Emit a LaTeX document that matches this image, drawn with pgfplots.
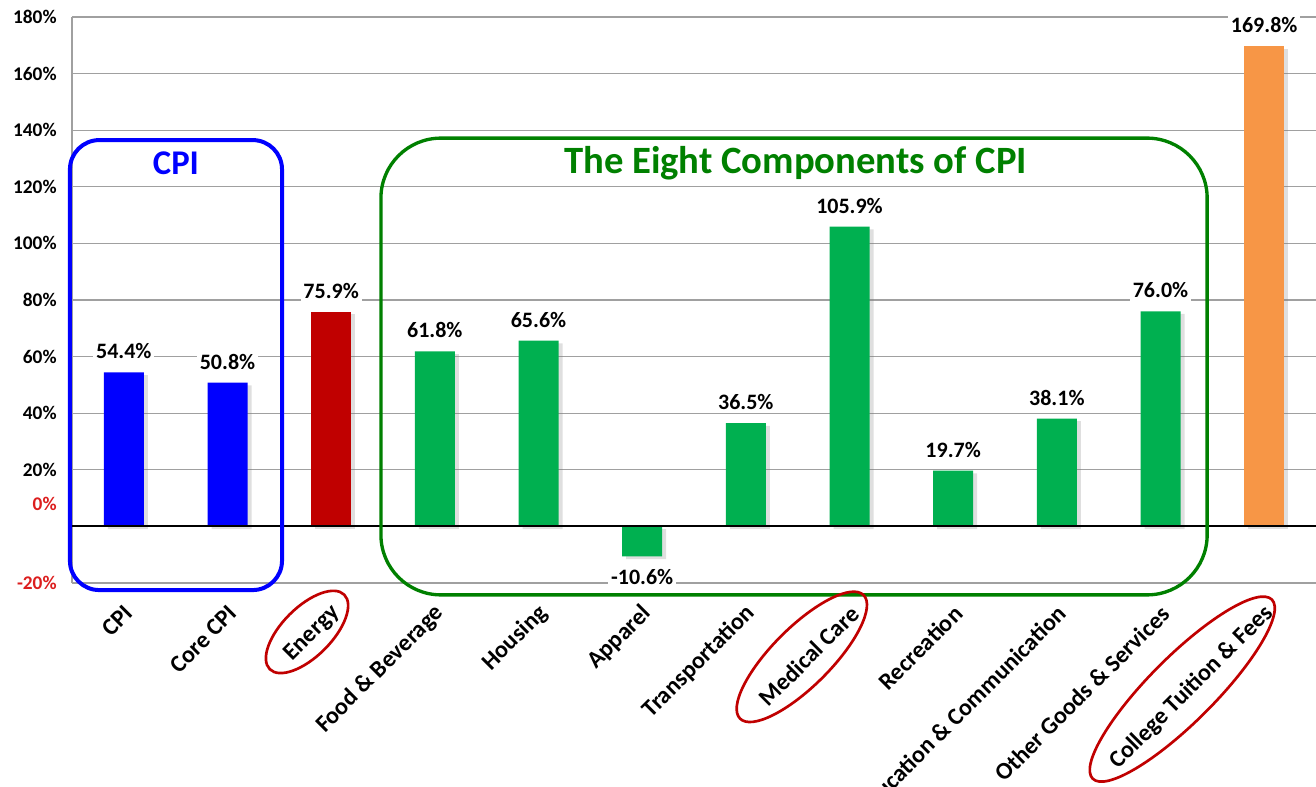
\documentclass[border=0pt]{standalone}
\usepackage{pgfplots}
\pgfplotsset{compat=1.18}
\usepackage{fontspec}
\setmainfont{Carlito}
\usetikzlibrary{shapes.geometric,shadows}

\definecolor{cpiblue}{RGB}{0,0,255}
\definecolor{enred}{RGB}{192,0,0}
\definecolor{compgreen}{RGB}{0,176,80}
\definecolor{colorange}{RGB}{247,150,70}
\definecolor{boxgreen}{RGB}{0,128,0}
\definecolor{tickred}{RGB}{220,30,30}
\definecolor{gridgray}{RGB}{160,160,160}

\begin{document}
\begin{tikzpicture}
\begin{axis}[
  at={(54pt,153pt)}, anchor=south west,
  scale only axis, width=933pt, height=424.5pt,
  xmin=-0.5, xmax=11.5, ymin=-20, ymax=180,
  ybar, bar width=30pt, bar shift=0pt,
  axis lines*=left,
  axis line style={gridgray, line width=1pt},
  ymajorgrids, grid style={gridgray, line width=1pt},
  major tick length=0pt,
  xtick={0,...,11},
  xticklabels={CPI, Core CPI, Energy, Food \& Beverage, Housing, Apparel, Transportation, Medical Care, Recreation, Education \& Communication, Other Goods \& Services, College Tuition \& Fees},
  xticklabel style={xshift=4pt, yshift=-20pt, rotate=45, anchor=east, inner sep=0pt, font=\fontsize{18}{20}\selectfont\bfseries},
  ytick={20,40,...,180},
  yticklabel={\pgfmathprintnumber{\tick}\%},
  yticklabel style={font=\fontsize{14.5}{16}\selectfont\bfseries, xshift=-8pt},
  extra y ticks={-20,8},
  extra y tick labels={-20\%,0\%},
  extra y tick style={grid=none, yticklabel style={text=tickred}},
  /pgf/number format/assume math mode=true,
  point meta=y,
  nodes near coords={\pgfmathprintnumber[fixed,fixed zerofill,precision=1]{\pgfplotspointmeta}\%},
  nodes near coords style={font=\fontsize{16.5}{18}\selectfont\bfseries, fill=white, text=black, inner sep=2pt, outer ysep=8pt},
  clip=false,
]
\addplot[fill=cpiblue, draw=none, drop shadow={shadow xshift=3pt, shadow yshift=-2pt, opacity=0.25}] coordinates {(0,54.4) (1,50.8)};
\addplot[fill=enred, draw=none, drop shadow={shadow xshift=3pt, shadow yshift=-2pt, opacity=0.25}] coordinates {(2,75.9)};
\addplot[fill=compgreen, draw=none, drop shadow={shadow xshift=3pt, shadow yshift=-2pt, opacity=0.25}] coordinates {(3,61.8) (4,65.6) (5,-10.6) (6,36.5) (7,105.9) (8,19.7) (9,38.1) (10,76.0)};
\addplot[fill=colorange, draw=none, drop shadow={shadow xshift=3pt, shadow yshift=-2pt, opacity=0.25}] coordinates {(11,169.8)};
\draw[black, line width=1.5pt] (axis cs:-0.5,0) -- (axis cs:11.5,0);
\draw[cpiblue, line width=3pt, rounded corners=22pt] (axis cs:-0.52,-22.5) rectangle (axis cs:1.526,136.5);
\draw[boxgreen, line width=2.5pt, rounded corners=45pt] (axis cs:2.48,-24.2) rectangle (axis cs:10.45,137.2);
\node[text=cpiblue, font=\fontsize{26}{30}\selectfont\bfseries] at (axis cs:0.503,128.4) {CPI};
\node[text=boxgreen, font=\fontsize{29}{32}\selectfont\bfseries] at (axis cs:6.48,128.4) {The Eight Components of CPI};
\node[draw=enred, line width=2pt, ellipse, rotate=45, minimum width=79pt, minimum height=37pt] at (axis cs:1.767,-37.3) {};
\node[draw=enred, line width=2pt, ellipse, rotate=45, minimum width=131pt, minimum height=44pt] at (axis cs:6.54,-46.1) {};
\node[draw=enred, line width=2pt, ellipse, rotate=45, minimum width=190pt, minimum height=49pt] at (axis cs:10.21,-57.5) {};
\end{axis}
\pgfresetboundingbox
\path[use as bounding box] (0,0) rectangle (987pt,590.25pt);
\end{tikzpicture}
\end{document}
